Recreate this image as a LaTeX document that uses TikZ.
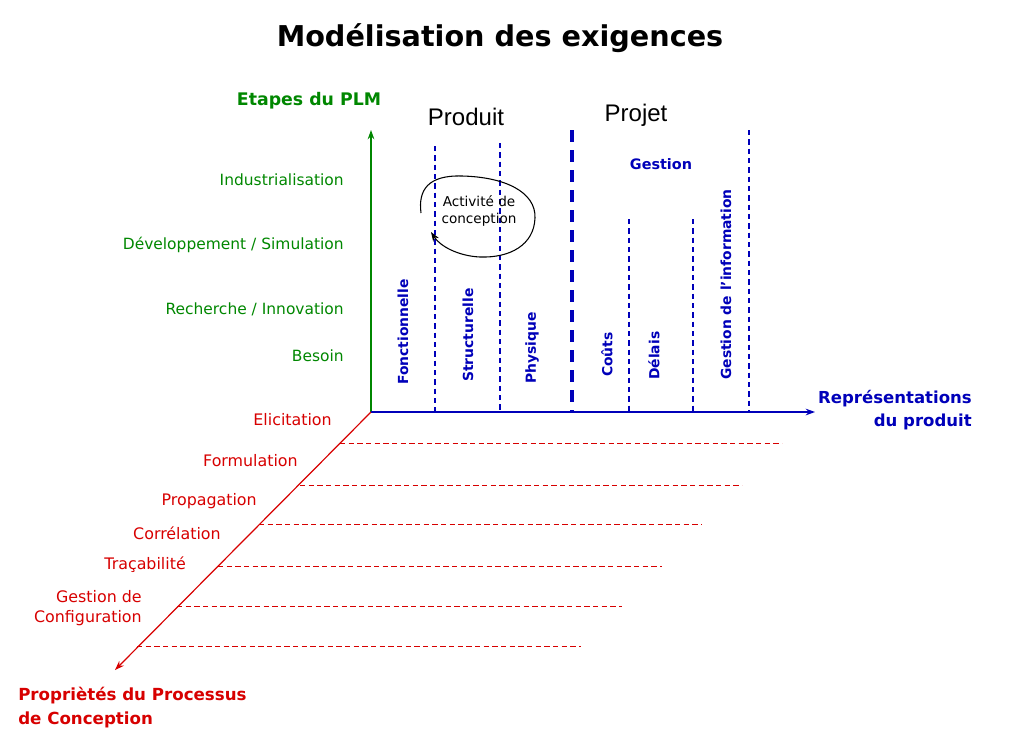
\documentclass[tikz,border=0pt]{standalone}
\usepackage{fontspec}
\setmainfont{DejaVu Sans}
\newfontfamily\arialf{Liberation Sans}
\definecolor{dgreen}{RGB}{0,135,0}
\definecolor{dblue}{RGB}{0,0,185}
\definecolor{dred}{RGB}{215,0,0}
\usetikzlibrary{arrows.meta}
\begin{document}
\begin{tikzpicture}[x=0.75pt,y=-0.75pt,
  glab/.style={text=dgreen,font=\fontsize{11.6}{13}\selectfont,anchor=east,inner sep=0pt},
  rlab/.style={text=dred,font=\fontsize{11.9}{13}\selectfont,anchor=east,inner sep=0pt,align=right},
  vlab/.style={text=dblue,font=\bfseries\fontsize{10.4}{12}\selectfont,rotate=90,anchor=west,inner sep=0pt},
  thindash/.style={dblue,line width=0.8pt,dash pattern=on 4pt off 3pt},
  reddash/.style={dred,line width=0.6pt,dash pattern=on 4pt off 2.5pt},
  axisarrow/.style={line width=0.9pt,-{Stealth[length=7pt,width=5pt]}},
]
\useasboundingbox (0,0) rectangle (1009,754);
% title
\node[font=\bfseries\fontsize{21.5}{24}\selectfont,inner sep=0pt] (title) at (500,38) {Modélisation des exigences};
% axes
\coordinate (O) at (371,412);
\coordinate (Ytop) at (371,130);
\coordinate (Xend) at (815,412);
\coordinate (Zend) at (115,670);
\draw[axisarrow,dgreen] (O) -- (Ytop);
\draw[axisarrow,dblue] (O) -- (Xend);
\draw[axisarrow,dred] (O) -- (Zend);
% axis titles
\node[text=dgreen,font=\bfseries\fontsize{13}{14}\selectfont,inner sep=0pt] (ytitle) at (309,101) {Etapes du PLM};
\node[text=dblue,font=\bfseries\fontsize{12.4}{17}\selectfont,align=right,anchor=east,inner sep=0pt] (xtitle) at (972,410) {Représentations\\du produit};
\node[text=dred,font=\bfseries\fontsize{12.5}{18}\selectfont,align=left,anchor=west,inner sep=0pt] (ztitle) at (18,708) {Propriètés du Processus\\de Conception};
% green labels
\node[glab] (g1) at (344,180) {Industrialisation};
\node[glab] (g2) at (344,245) {Développement / Simulation};
\node[glab] (g3) at (344,309) {Recherche / Innovation};
\node[glab] (g4) at (344,356) {Besoin};
% red labels
\node[rlab] (r1) at (332,420) {Elicitation};
\node[rlab] (r2) at (298,461) {Formulation};
\node[rlab] (r3) at (257,501) {Propagation};
\node[rlab] (r4) at (221,533) {Corrélation};
\node[rlab] (r5) at (186,565) {Traçabilité};
\node[rlab,font=\fontsize{11.9}{15}\selectfont] (r6) at (142,608) {Gestion de\\Configuration};
% red dashed lines
\foreach \y/\xa/\xb in {443/340/782, 485/300/742, 524/259/702, 566/218/662, 606/177/622, 646/137/581}{
  \draw[reddash] (\xa,\y) -- (\xb,\y);
}
% blue verticals
\coordinate (v1t) at (435,146); \coordinate (v1b) at (435,412);
\coordinate (v2t) at (500,143); \coordinate (v2b) at (500,412);
\coordinate (v3t) at (572,130); \coordinate (v3b) at (572,412);
\coordinate (v4t) at (629,219); \coordinate (v4b) at (629,412);
\coordinate (v5t) at (693,219); \coordinate (v5b) at (693,412);
\coordinate (v6t) at (749,130); \coordinate (v6b) at (749,412);
\draw[thindash] (v1t) -- (v1b);
\draw[thindash] (v2t) -- (v2b);
\draw[dblue,line width=2.4pt,dash pattern=on 9pt off 6pt] (v3t) -- (v3b);
\draw[thindash] (v4t) -- (v4b);
\draw[thindash] (v5t) -- (v5b);
\draw[thindash] (v6t) -- (v6b);
% headers
\node[font=\arialf\fontsize{18}{20}\selectfont,inner sep=0pt] (produit) at (466,117) {Produit};
\node[font=\arialf\fontsize{18}{20}\selectfont,inner sep=0pt] (projet) at (636,115) {Projet};
\node[text=dblue,font=\bfseries\fontsize{10.8}{12}\selectfont,inner sep=0pt] (gestion) at (661,164) {Gestion};
% vertical labels
\node[vlab] (l1) at (403,385) {Fonctionnelle};
\node[vlab] (l2) at (468,382) {Structurelle};
\node[vlab] (l3) at (532,384) {Physique};
\node[vlab] (l4) at (607,377) {Coûts};
\node[vlab] (l5) at (654,380) {Délais};
\node[vlab] (l6) at (726,380) {Gestion de l'information};
% design activity loop
\node[font=\fontsize{10.2}{12.5}\selectfont,align=center,inner sep=0pt] (act) at (479,211) {Activité de\\conception};
\coordinate (ls) at (421,213);
\coordinate (le) at (431,232);
\draw[line width=0.8pt,-{Stealth[length=7pt,width=5pt]}] (ls) .. controls (418,190) and (428,175) .. (462,176)
  .. controls (505,177) and (536,192) .. (535,218)
  .. controls (534,245) and (510,258) .. (480,257)
  .. controls (458,256) and (440,246) .. (le);
\end{tikzpicture}
\end{document}
